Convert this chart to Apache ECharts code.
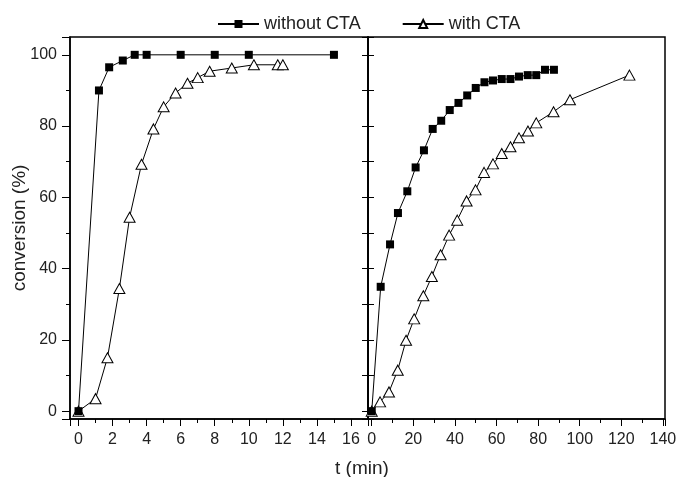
<!DOCTYPE html>
<html><head><meta charset="utf-8">
<script src="https://cdn.jsdelivr.net/npm/echarts@6/dist/echarts.min.js"></script>
<style>html,body{margin:0;padding:0;background:#fff}#c{width:681px;height:477px}</style>
</head><body><div id="c"></div>
<script>
// Left panel (short times)
var leftNoCTA_t = [0, 1.2, 1.8, 2.6, 3.3, 4, 6, 8, 10, 15];
var leftNoCTA_v = [0, 90, 96.5, 98.4, 100, 100, 100, 100, 100, 100];
var leftCTA_t = [0, 1.0, 1.7, 2.4, 3.0, 3.7, 4.4, 5.0, 5.7, 6.4, 7.0, 7.7, 9.0, 10.3, 11.7, 12.0];
var leftCTA_v = [0, 3.5, 15, 34.4, 54.4, 69.3, 79.2, 85.4, 89.3, 92, 93.6, 95.4, 96.3, 97.2, 97.2, 97.2];
// Right panel (long times)
var rightNoCTA_t = [0, 4.3, 8.8, 12.6, 17.1, 21.1, 25.1, 29.3, 33.4, 37.5, 41.7, 45.9, 50, 54.2, 58.3, 62.5, 66.7, 70.8, 75, 79.1, 83.3, 87.6];
var rightNoCTA_v = [0, 34.9, 46.8, 55.6, 61.7, 68.4, 73.2, 79.2, 81.5, 84.5, 86.5, 88.6, 90.7, 92.3, 92.8, 93.2, 93.2, 93.9, 94.3, 94.3, 95.8, 95.8];
var rightCTA_t = [0, 4.0, 8.3, 12.5, 16.5, 20.4, 24.8, 28.9, 33.1, 37.2, 41.1, 45.6, 49.9, 54, 58.3, 62.5, 66.7, 70.8, 75.1, 79.1, 87.4, 95.3, 123.9];
var rightCTA_v = [0, 2.6, 5.4, 11.5, 19.9, 25.9, 32.4, 37.8, 43.9, 49.4, 53.6, 59, 62.1, 67, 69.4, 72.3, 74.2, 76.7, 78.6, 80.9, 84, 87.4, 94.3];

function zip(a, b) { return a.map(function (x, i) { return [x, b[i]]; }); }
var FONT = 'Liberation Sans';
var black = '#000';
function fmt(step) {
  return function (v) { return Math.abs(v / step - Math.round(v / step)) < 1e-6 ? String(Math.round(v)) : ''; };
}
var lbl = { color: '#222', fontSize: 16, fontFamily: FONT };

var chart = echarts.init(document.getElementById('c'));
chart.setOption({
  animation: false,
  textStyle: { fontFamily: FONT },
  legend: {
    top: 10, left: 212, itemGap: 41, itemWidth: 41, itemHeight: 10,
    textStyle: { fontSize: 18, color: '#222', fontFamily: FONT },
    data: ['without CTA', 'with CTA']
  },
  grid: [
    { left: 70, right: 313, top: 37, bottom: 58, show: true, borderColor: black, borderWidth: 1.5, backgroundColor: 'transparent' },
    { left: 368, right: 16, top: 37, bottom: 58, show: true, borderColor: black, borderWidth: 1.5, backgroundColor: 'transparent' }
  ],
  xAxis: [
    { type: 'value', gridIndex: 0, min: -0.5, max: 17, splitNumber: 8,
      axisLine: { show: true, onZero: false, lineStyle: { color: black, width: 1.5 } },
      axisTick: { show: true, length: 7, lineStyle: { color: black } },
      minorTick: { show: true, splitNumber: 2, length: 4, lineStyle: { color: black } },
      splitLine: { show: false },
      axisLabel: Object.assign({ margin: 13, formatter: fmt(2) }, lbl) },
    { type: 'value', gridIndex: 1, min: -1.8, max: 141, splitNumber: 7,
      axisLine: { show: true, onZero: false, lineStyle: { color: black, width: 1.5 } },
      axisTick: { show: true, length: 7, lineStyle: { color: black } },
      minorTick: { show: true, splitNumber: 2, length: 4, lineStyle: { color: black } },
      splitLine: { show: false },
      axisLabel: Object.assign({ margin: 13, formatter: fmt(20) }, lbl) }
  ],
  yAxis: [
    { type: 'value', gridIndex: 0, min: -2.2, max: 105, splitNumber: 5, position: 'left',
      name: 'conversion (%)', nameLocation: 'middle', nameGap: 41, nameMoveOverlap: false,
      nameTextStyle: { fontSize: 19, color: '#222', fontFamily: FONT },
      axisLine: { show: true, onZero: false, lineStyle: { color: black, width: 1.5 } },
      axisTick: { show: true, length: 8, lineStyle: { color: black } },
      minorTick: { show: true, splitNumber: 2, length: 4, lineStyle: { color: black } },
      splitLine: { show: false },
      axisLabel: Object.assign({ margin: 13, formatter: fmt(20) }, lbl) },
    { type: 'value', gridIndex: 0, min: -2.2, max: 105, splitNumber: 5, position: 'right',
      axisLine: { show: true, onZero: false, lineStyle: { color: black, width: 1.5 } },
      axisTick: { show: true, inside: true, length: 6, lineStyle: { color: black } },
      minorTick: { show: true, splitNumber: 2, length: 6, lineStyle: { color: black } },
      splitLine: { show: false }, axisLabel: { show: false } },
    { type: 'value', gridIndex: 1, min: -2.2, max: 105, splitNumber: 5, position: 'left',
      axisLine: { show: true, onZero: false, lineStyle: { color: black, width: 1.5 } },
      axisTick: { show: true, inside: true, length: 6, lineStyle: { color: black } },
      minorTick: { show: true, splitNumber: 2, length: 6, lineStyle: { color: black } },
      splitLine: { show: false }, axisLabel: { show: false } }
  ],
  graphic: [
    { type: 'text', left: 335, top: 459, style: { text: 't (min)', fontSize: 19, fill: '#222', fontFamily: FONT } }
  ],
  series: [
    { name: 'without CTA', type: 'line', xAxisIndex: 0, yAxisIndex: 0, data: zip(leftNoCTA_t, leftNoCTA_v),
      symbol: 'rect', symbolSize: 8, showAllSymbol: true, itemStyle: { color: black }, lineStyle: { color: black, width: 1 }, z: 3 },
    { name: 'with CTA', type: 'line', xAxisIndex: 0, yAxisIndex: 0, data: zip(leftCTA_t, leftCTA_v),
      symbol: 'triangle', symbolSize: [11, 10], showAllSymbol: true,
      itemStyle: { color: '#fff', borderColor: black, borderWidth: 1 }, lineStyle: { color: black, width: 1 }, z: 2 },
    { name: 'without CTA', type: 'line', xAxisIndex: 1, yAxisIndex: 2, data: zip(rightNoCTA_t, rightNoCTA_v),
      symbol: 'rect', symbolSize: 8, showAllSymbol: true, itemStyle: { color: black }, lineStyle: { color: black, width: 1 }, z: 3 },
    { name: 'with CTA', type: 'line', xAxisIndex: 1, yAxisIndex: 2, data: zip(rightCTA_t, rightCTA_v),
      symbol: 'triangle', symbolSize: [11, 10], showAllSymbol: true,
      itemStyle: { color: '#fff', borderColor: black, borderWidth: 1 }, lineStyle: { color: black, width: 1 }, z: 2 }
  ]
});
</script></body></html>
